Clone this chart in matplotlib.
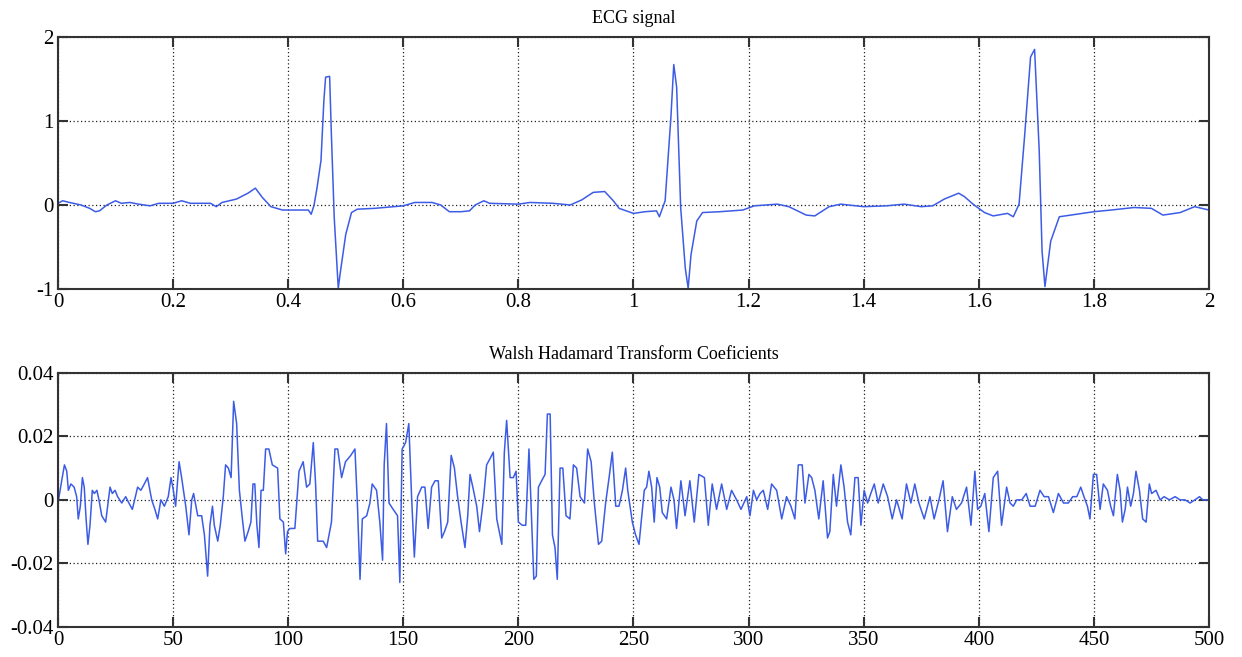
import matplotlib.pyplot as plt

plt.rcParams["font.family"] = ["Liberation Serif", "DejaVu Serif"]

# ECG signal, (time s, amplitude)
ecgTime = [0.0, 0.008, 0.02, 0.04, 0.055, 0.065, 0.072, 0.085, 0.1, 0.11, 0.125, 0.14, 0.16, 0.175,
           0.2, 0.215, 0.23, 0.25, 0.265, 0.275, 0.285, 0.31, 0.33, 0.343, 0.355, 0.37, 0.39, 0.42,
           0.435, 0.44, 0.445, 0.45, 0.457, 0.462, 0.465, 0.472, 0.475, 0.48, 0.487, 0.49, 0.5, 0.51,
           0.52, 0.55, 0.6, 0.62, 0.65, 0.665, 0.68, 0.7, 0.715, 0.725, 0.74, 0.75, 0.8, 0.82, 0.86,
           0.89, 0.91, 0.93, 0.95, 0.965, 0.975, 1.0, 1.02, 1.04, 1.045, 1.055, 1.065, 1.07, 1.075,
           1.082, 1.09, 1.095, 1.1, 1.11, 1.12, 1.15, 1.19, 1.21, 1.25, 1.27, 1.3, 1.315, 1.34, 1.36,
           1.4, 1.44, 1.47, 1.5, 1.52, 1.54, 1.565, 1.575, 1.59, 1.61, 1.625, 1.65, 1.66, 1.67, 1.68,
           1.69, 1.697, 1.705, 1.71, 1.715, 1.725, 1.74, 1.77, 1.8, 1.83, 1.87, 1.9, 1.92, 1.95,
           1.975, 2.0]
ecgValue = [0.02, 0.05, 0.03, 0.0, -0.04, -0.08, -0.07, 0.0, 0.05, 0.02, 0.03, 0.01, -0.01, 0.02,
            0.02, 0.05, 0.02, 0.02, 0.02, -0.02, 0.03, 0.07, 0.14, 0.2, 0.09, -0.02, -0.06, -0.06,
            -0.06, -0.11, 0.0, 0.2, 0.53, 1.24, 1.52, 1.53, 0.85, -0.15, -0.99, -0.83, -0.35, -0.09,
            -0.05, -0.04, -0.01, 0.03, 0.03, 0.0, -0.08, -0.08, -0.07, 0.0, 0.05, 0.02, 0.01, 0.03, 0.02,
            0.0, 0.06, 0.15, 0.16, 0.05, -0.04, -0.1, -0.08, -0.07, -0.14, 0.05, 1.04, 1.67, 1.4,
            -0.03, -0.75, -0.99, -0.59, -0.19, -0.09, -0.08, -0.06, -0.01, 0.01, -0.02, -0.12, -0.13,
            -0.02, 0.01, -0.02, -0.01, 0.01, -0.02, -0.01, 0.07, 0.14, 0.1, 0.01, -0.09, -0.13, -0.1,
            -0.14, 0.01, 0.85, 1.76, 1.85, 0.65, -0.55, -0.97, -0.43, -0.14, -0.11, -0.08, -0.06,
            -0.03, -0.04, -0.12, -0.09, -0.02, -0.06]

# Walsh Hadamard transform coefficients as (index, value) pairs
whtPoints = [
    (0, -0.001), (1.6, 0.006), (2.8, 0.011), (3.8, 0.009), (4.5, 0.003), (5.6, 0.005), (7, 0.004),
    (8.1, 0.001), (8.8, -0.006), (9.7, -0.002), (10.6, 0.007), (11.4, 0.004), (12.2, -0.006),
    (13, -0.014), (13.9, -0.008), (14.9, 0.003), (15.8, 0.002), (16.9, 0.003), (17.8, 0),
    (19, -0.005), (20.7, -0.007), (22.6, 0.004), (23.6, 0.002), (24.8, 0.003), (25.9, 0.001),
    (27.7, -0.001), (29.4, 0.001), (30.8, -0.001), (32.3, -0.003), (34.6, 0.004), (36, 0.003),
    (37.5, 0.005), (38.9, 0.007), (40.7, 0), (42.1, -0.003), (43.3, -0.006), (44.7, 0),
    (46.2, -0.002), (47.9, 0.001), (49.1, 0.007), (50.1, 0.003), (51.1, -0.002), (52.6, 0.012),
    (53.7, 0.007), (55.5, -0.002), (56.9, -0.011), (58.1, 0), (58.9, 0.002), (60.7, -0.005),
    (62.4, -0.005), (63.6, -0.011), (65, -0.024), (66, -0.008), (67.1, -0.002), (67.9, -0.008),
    (69.4, -0.013), (70.5, -0.008), (71.8, 0.001), (72.8, 0.011), (74, 0.010), (75.2, 0.007),
    (76.3, 0.031), (77.6, 0.024), (78.8, 0.003), (80.1, -0.006),
    (81.2, -0.013), (82.6, -0.010), (83.8, -0.007), (84.7, 0.005), (85.5, 0.005), (86.4, -0.008),
    (87.3, -0.015), (88.2, 0.003), (89.2, 0.003), (90.2, 0.016), (91.6, 0.016), (93.1, 0.011),
    (95.4, 0.010), (96.4, -0.006), (97.9, -0.007), (98.9, -0.017), (99.7, -0.010), (100.7, -0.009),
    (102.9, -0.009), (104.7, 0.009), (106.5, 0.012), (108, 0.004), (109.4, 0.005), (110.9, 0.018),
    (111.9, 0.005), (112.8, -0.013), (115.2, -0.013), (116.7, -0.015), (118.8, -0.007),
    (120.3, 0.016), (121.5, 0.016), (123.2, 0.007), (124.9, 0.012), (127.2, 0.014), (129, 0.016),
    (130.1, -0.002), (131.2, -0.025), (132.2, -0.006), (134.1, -0.005), (135.5, -0.001),
    (136.5, 0.005), (138.4, 0.003), (139.8, -0.007), (141, -0.019), (141.7, 0.011), (142.7, 0.024),
    (143.8, -0.001), (145.6, -0.003), (147.5, -0.005), (148.5, -0.026), (149.5, 0.016),
    (151, 0.018), (152.4, 0.024), (153.6, 0.001), (154.8, -0.018), (156.2, 0.001), (158, 0.004),
    (159.4, 0.004), (160.8, -0.009), (162.3, 0.004),
    (163.8, 0.006), (165.2, 0.006), (166.7, -0.012), (167.9, -0.010), (169.3, -0.007),
    (170.8, 0.014), (172.2, 0.010), (173.6, 0.001), (175.1, -0.007), (176.8, -0.015), (178, -0.005),
    (179, 0.008), (180.5, 0.003), (181.9, -0.002), (183.1, -0.010), (184.8, 0), (186.2, 0.011),
    (187.7, 0.013), (189.1, 0.015), (190.6, -0.006), (192.8, -0.014), (193.9, 0.015),
    (194.9, 0.025), (196.4, 0.007), (197.8, 0.007), (199, 0.009), (200, -0.007), (201.7, -0.008),
    (203.2, -0.008), (204.6, 0.016), (205.8, -0.007), (206.7, -0.025), (207.8, -0.024),
    (208.7, 0.004), (210.1, 0.006), (211.6, 0.008), (212.6, 0.027), (213.8, 0.027),
    (214.8, -0.011), (215.9, -0.015), (216.9, -0.025), (218.1, 0.010), (219.3, 0.010),
    (220.7, -0.005), (222.4, -0.006), (223.9, 0.011), (225.3, 0.010), (226.8, 0.001),
    (228.7, -0.001), (230.1, 0.016), (231.6, 0.012), (233, -0.001), (234.8, -0.014),
    (236.2, -0.013), (237.9, -0.001), (239.4, 0.007), (240.8, 0.015), (242.3, -0.002),
    (243.7, -0.002), (245.2, 0.003), (246.6, 0.010),
    (247.5, 0.003), (248.5, -0.002), (249.5, -0.007), (250.9, -0.011), (252.4, -0.014),
    (253.5, -0.006), (254.7, 0.003), (255.7, 0.004), (256.7, 0.009), (257.9, 0.004), (259, -0.007),
    (260.2, 0.007), (261.4, 0.004), (262.5, -0.004), (264.4, -0.006), (266.3, 0.004), (267.6, 0),
    (268.7, -0.009), (270.6, 0.006), (272.4, -0.005), (274.5, 0.006), (276.4, -0.007),
    (278.4, 0.008), (280.8, 0.007), (282.5, -0.008), (284.2, 0.005), (286.1, -0.003),
    (288.3, 0.005), (290.5, -0.003), (292.6, 0.003), (294.8, 0), (296.7, -0.003), (299.2, 0.001),
    (300.6, -0.005), (302.1, 0.003), (303.5, 0), (305, 0.002), (306.4, 0.003), (308.3, -0.003),
    (310, 0.005), (312.2, 0.003), (314.4, -0.006), (316.5, 0.001), (318.4, -0.002),
    (320.1, -0.006), (321.6, 0.011), (323.3, 0.011), (324.5, -0.001), (326.2, 0.008),
    (327.4, 0.007), (328.8, 0.003),
    (330.5, -0.006), (332.4, 0.006), (334.3, -0.012), (335.3, -0.010), (336.8, 0.008),
    (338.2, -0.002), (340.1, 0.011), (341.5, 0.004), (343, -0.007), (344.4, -0.011),
    (346.2, 0.007), (347.6, 0.007), (348.8, -0.008), (350.2, 0.003), (351.7, -0.001),
    (353.1, 0.002), (354.6, 0.005), (356.3, -0.001), (358.5, 0.005), (360.4, 0.001),
    (362.4, -0.006), (364.3, 0), (366.7, -0.006), (368.6, 0.005), (370.5, -0.001), (372.2, 0.005),
    (374, -0.001), (376.3, -0.006), (378.8, 0.001), (380.6, -0.006), (382.7, 0), (384.5, 0.006),
    (386.4, -0.010), (388.5, 0.001), (390.3, -0.003), (392.5, -0.001), (394.7, 0.004),
    (396.6, -0.008), (398.3, 0.009), (399.5, -0.003), (400.9, -0.002), (402.6, 0.002),
    (404.4, -0.010), (406.3, 0.007), (408.2, 0.009), (409.9, -0.008), (412.1, 0.004),
    (413.6, -0.001), (415, -0.002), (416.5, 0), (418.7, 0), (420.6, 0.002), (422.3, -0.002),
    (424.5, -0.002), (426.6, 0.003), (428.4, 0.001), (430.3, 0.001), (432.4, -0.004),
    (434.6, 0.002), (436.8, -0.001), (438.9, -0.001), (440.8, 0.001), (442.6, 0.001),
    (444.3, 0.004), (445.7, 0.001), (447.2, -0.002), (448.3, -0.006), (449.8, 0.008),
    (451.2, 0.008), (452.7, -0.003), (454.1, 0.005), (455.9, 0.003), (457.3, -0.002),
    (458.5, -0.005), (460.2, 0.008), (461.4, 0.003), (462.4, -0.007), (463.6, -0.003),
    (464.6, 0.004), (466, -0.002), (467.2, 0.002), (468.3, 0.009), (469.8, 0.003), (471.2, -0.006),
    (472.7, -0.007), (474.1, 0.005), (475.1, 0.002), (477, 0.003), (478.8, 0), (480.5, 0.001),
    (482.8, 0), (485.3, 0.001), (487.4, 0), (489.6, 0), (491.8, -0.001), (493.9, 0),
    (495.9, 0.001), (497.3, 0), (499, 0), (500, 0),
]
whtIndex = [p[0] for p in whtPoints]
whtValue = [p[1] for p in whtPoints]

lineColor = "#3d5ce6"
gridStyle = dict(color="#222222", linestyle=(0, (1, 2)), linewidth=0.9)

fig = plt.figure(figsize=(12.42, 6.57), dpi=100)
axTop = fig.add_axes([0.0467, 0.560, 0.9267, 0.384])
axBottom = fig.add_axes([0.0467, 0.0457, 0.9267, 0.387])

# top panel: ECG
axTop.plot(ecgTime, ecgValue, color=lineColor, linewidth=1.1)
axTop.set_xlim(0, 2)
axTop.set_ylim(-1, 2)
axTop.set_xticks([0, 0.2, 0.4, 0.6, 0.8, 1, 1.2, 1.4, 1.6, 1.8, 2])
axTop.set_xticklabels(["0", "0.2", "0.4", "0.6", "0.8", "1", "1.2", "1.4", "1.6", "1.8", "2"])
axTop.set_yticks([-1, 0, 1, 2])
axTop.set_yticklabels(["-1", "0", "1", "2"])
axTop.set_title("ECG signal", fontsize=13, pad=10)

# bottom panel: WHT coefficients
axBottom.plot(whtIndex, whtValue, color=lineColor, linewidth=1.1)
axBottom.set_xlim(0, 500)
axBottom.set_ylim(-0.04, 0.04)
axBottom.set_xticks([0, 50, 100, 150, 200, 250, 300, 350, 400, 450, 500])
axBottom.set_yticks([-0.04, -0.02, 0, 0.02, 0.04])
axBottom.set_yticklabels(["-0.04", "-0.02", "0", "0.02", "0.04"])
axBottom.set_title("Walsh Hadamard Transform Coeficients", fontsize=13, pad=10)

for ax in (axTop, axBottom):
    ax.grid(True, **gridStyle)
    ax.tick_params(direction="in", length=7, width=1.5, top=True, right=True,
                   labelsize=15, color="#333333", pad=3)
    for spine in ax.spines.values():
        spine.set_color("#333333")
        spine.set_linewidth(1.5)

fig.savefig("out.png", dpi=100)
